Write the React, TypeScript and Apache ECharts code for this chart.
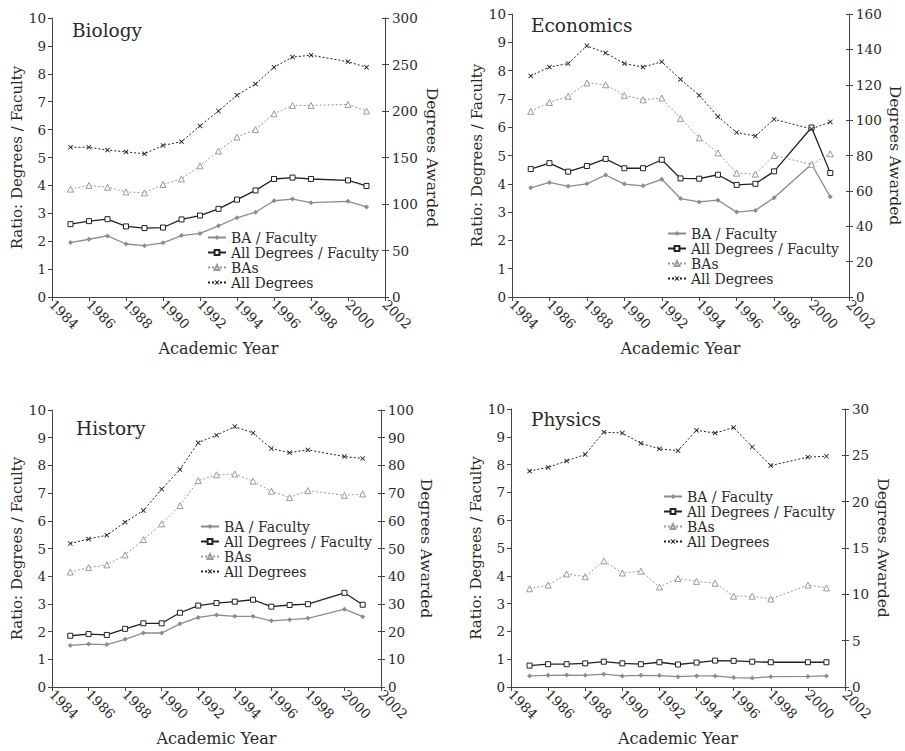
import React, { useEffect, useRef } from "react";
import * as echarts from "echarts";

const YEARS = [1985, 1986, 1987, 1988, 1989, 1990, 1991, 1992, 1993, 1994, 1995, 1996, 1997, 1998, 2000, 2001];
const SERIES_NAMES = ["BA / Faculty", "All Degrees / Faculty", "BAs", "All Degrees"];
const PANEL_TITLES = ["Biology", "Economics", "History", "Physics"];
const RIGHT_MAX = [300, 160, 100, 30];
const RIGHT_INTERVAL = [50, 20, 10, 5];

const BIO_BA_FAC = [1.95, 2.07, 2.19, 1.9, 1.84, 1.94, 2.2, 2.28, 2.55, 2.84, 3.04, 3.45, 3.51, 3.38, 3.43, 3.23];
const BIO_ALL_FAC = [2.61, 2.72, 2.79, 2.53, 2.47, 2.49, 2.78, 2.92, 3.16, 3.49, 3.82, 4.23, 4.28, 4.23, 4.18, 3.98];
const BIO_BAS = [116, 120, 118, 113, 112, 121, 127, 141, 157, 172, 180, 197, 206, 206, 207, 200];
const BIO_ALL = [161, 161, 158, 156, 154, 163, 167, 184, 200, 217, 229, 247, 258, 260, 253, 247];

const ECON_BA_FAC = [3.86, 4.05, 3.91, 4.0, 4.31, 3.99, 3.93, 4.16, 3.48, 3.36, 3.42, 3.0, 3.06, 3.51, 4.69, 3.54];
const ECON_ALL_FAC = [4.52, 4.73, 4.43, 4.63, 4.88, 4.55, 4.55, 4.85, 4.19, 4.18, 4.32, 3.96, 4.0, 4.44, 5.99, 4.38];
const ECON_BAS = [105, 110, 113.5, 121, 120, 114, 111.5, 112.5, 101, 90, 81.5, 70, 69.5, 80, 75, 81];
const ECON_ALL = [125, 130, 132, 142, 138, 132, 130, 133, 123, 114, 102, 93, 91, 100.5, 95, 99];

const HIST_BA_FAC = [1.5, 1.55, 1.53, 1.72, 1.95, 1.95, 2.28, 2.51, 2.6, 2.55, 2.55, 2.39, 2.43, 2.48, 2.81, 2.54];
const HIST_ALL_FAC = [1.85, 1.91, 1.88, 2.1, 2.3, 2.3, 2.68, 2.94, 3.03, 3.08, 3.15, 2.9, 2.96, 2.99, 3.4, 2.97];
const HIST_BAS = [41.5, 43.1, 44.1, 47.7, 53.2, 58.9, 65.5, 74.5, 76.6, 76.9, 74.3, 70.7, 68.4, 70.9, 69.2, 69.7];
const HIST_ALL = [51.8, 53.4, 54.8, 59.5, 63.7, 71.4, 78.5, 88.2, 90.9, 94, 91.7, 86.1, 84.6, 85.6, 83.2, 82.5];

const PHYS_BA_FAC = [0.4, 0.42, 0.43, 0.42, 0.46, 0.4, 0.42, 0.41, 0.37, 0.4, 0.4, 0.34, 0.32, 0.37, 0.38, 0.4];
const PHYS_ALL_FAC = [0.77, 0.82, 0.82, 0.85, 0.91, 0.85, 0.82, 0.89, 0.81, 0.88, 0.95, 0.94, 0.91, 0.89, 0.89, 0.89];
const PHYS_BAS = [10.6, 11.0, 12.2, 11.9, 13.6, 12.3, 12.5, 10.8, 11.7, 11.4, 11.2, 9.8, 9.8, 9.5, 11.0, 10.7];
const PHYS_ALL = [23.3, 23.7, 24.4, 25.1, 27.5, 27.4, 26.3, 25.7, 25.5, 27.7, 27.4, 28.0, 25.9, 23.9, 24.8, 24.9];

const PANEL_DATA = [
  [BIO_BA_FAC, BIO_ALL_FAC, BIO_BAS, BIO_ALL],
  [ECON_BA_FAC, ECON_ALL_FAC, ECON_BAS, ECON_ALL],
  [HIST_BA_FAC, HIST_ALL_FAC, HIST_BAS, HIST_ALL],
  [PHYS_BA_FAC, PHYS_ALL_FAC, PHYS_BAS, PHYS_ALL],
];

// layout
const GRIDS = [
  { left: 52, top: 18, width: 333, height: 279 },
  { left: 512, top: 14, width: 337, height: 283 },
  { left: 52, top: 410, width: 329, height: 277 },
  { left: 511, top: 409, width: 334, height: 278 },
];
const LEGEND_POS = [
  { left: 207, top: 230 },
  { left: 667, top: 226 },
  { left: 200, top: 519 },
  { left: 663, top: 489 },
];
const TITLE_POS = [
  { left: 67, top: 16 },
  { left: 526, top: 11 },
  { left: 71, top: 414 },
  { left: 526, top: 405 },
];
const X_NAME_GAP = [43, 43, 43, 43];
const Y_LEFT_NAME_GAP = [27, 27, 27, 26];
const Y_RIGHT_NAME_GAP = [39, 38, 33, 30];

const FONT = "DejaVu Serif";
const TXT = "#2a2a2a";
const AX = "#444";
const GRAY = "#8c8c8c";
const LGRAY = "#9a9a9a";
const BLACK = "#222";
const XMARK = "path://M0,1.2L1.2,0L5,3.8L8.8,0L10,1.2L6.2,5L10,8.8L8.8,10L5,6.2L1.2,10L0,8.8L3.8,5Z";

function buildOption() {
  const grid: any[] = [];
  const xAxis: any[] = [];
  const yAxis: any[] = [];
  const series: any[] = [];
  const legend: any[] = [];
  const title: any[] = [];

  for (let i = 0; i < 4; i++) {
    grid.push({ ...GRIDS[i], containLabel: false, outerBoundsMode: "none" });
    title.push({
      text: PANEL_TITLES[i],
      ...TITLE_POS[i],
      textStyle: { fontFamily: FONT, fontSize: 18.5, fontWeight: "normal", color: TXT },
    });
    xAxis.push({
      type: "value",
      gridIndex: i,
      min: 1984,
      max: 2002,
      interval: 2,
      name: "Academic Year",
      nameLocation: "middle",
      nameGap: X_NAME_GAP[i],
      nameTextStyle: { fontFamily: FONT, fontSize: 16, color: TXT },
      axisLine: { show: true, lineStyle: { color: AX, width: 1 } },
      axisTick: { show: true, length: 4, lineStyle: { color: AX } },
      axisLabel: {
        rotate: -45,
        margin: 5,
        fontFamily: FONT,
        fontSize: 13.5,
        color: TXT,
        showMinLabel: true,
        showMaxLabel: true,
        formatter: (v: number) => String(v),
      },
      splitLine: { show: false },
    });
    yAxis.push({
      type: "value",
      gridIndex: i,
      position: "left",
      min: 0,
      max: 10,
      interval: 1,
      name: "Ratio: Degrees / Faculty",
      nameLocation: "middle",
      nameGap: Y_LEFT_NAME_GAP[i],
      nameTextStyle: { fontFamily: FONT, fontSize: 15, color: TXT },
      axisLine: { show: true, lineStyle: { color: AX, width: 1 } },
      axisTick: { show: true, length: 4, lineStyle: { color: AX } },
      axisLabel: { margin: 6, fontFamily: FONT, fontSize: 13.5, color: TXT },
      splitLine: { show: false },
    });
    yAxis.push({
      type: "value",
      gridIndex: i,
      position: "right",
      min: 0,
      max: RIGHT_MAX[i],
      interval: RIGHT_INTERVAL[i],
      name: "Degrees Awarded",
      nameLocation: "middle",
      nameRotate: -90,
      nameGap: Y_RIGHT_NAME_GAP[i],
      nameTextStyle: { fontFamily: FONT, fontSize: 15.5, color: TXT },
      axisLine: { show: true, lineStyle: { color: AX, width: 1 } },
      axisTick: { show: true, length: 4, lineStyle: { color: AX } },
      axisLabel: { margin: 7, fontFamily: FONT, fontSize: 13.5, color: TXT },
      splitLine: { show: false },
    });
    yAxis.push({
      type: "value",
      gridIndex: i,
      position: "right",
      min: 0,
      max: RIGHT_MAX[i],
      interval: RIGHT_INTERVAL[i],
      axisLine: { show: false },
      axisTick: { show: true, inside: true, length: 3, lineStyle: { color: AX } },
      axisLabel: { show: false },
      splitLine: { show: false },
    });

    const d = PANEL_DATA[i];
    const pairs = (arr: number[]) => YEARS.map((y, k) => [y, arr[k]]);
    series.push({
      name: SERIES_NAMES[0],
      type: "line",
      xAxisIndex: i,
      yAxisIndex: 3 * i,
      data: pairs(d[0]),
      symbol: "diamond",
      symbolSize: 5,
      lineStyle: { color: GRAY, width: 1.3, type: "solid" },
      itemStyle: { color: GRAY },
    });
    series.push({
      name: SERIES_NAMES[1],
      type: "line",
      xAxisIndex: i,
      yAxisIndex: 3 * i,
      data: pairs(d[1]),
      symbol: "rect",
      symbolSize: 5,
      lineStyle: { color: BLACK, width: 1.3, type: "solid" },
      itemStyle: { color: "#fff", borderColor: BLACK, borderWidth: 1 },
    });
    series.push({
      name: SERIES_NAMES[2],
      type: "line",
      xAxisIndex: i,
      yAxisIndex: 3 * i + 1,
      data: pairs(d[2]),
      symbol: "triangle",
      symbolSize: 6,
      lineStyle: { color: LGRAY, width: 1, type: [2, 2] },
      itemStyle: { color: "#fff", borderColor: LGRAY, borderWidth: 1 },
    });
    series.push({
      name: SERIES_NAMES[3],
      type: "line",
      xAxisIndex: i,
      yAxisIndex: 3 * i + 1,
      data: pairs(d[3]),
      symbol: XMARK,
      symbolSize: 5,
      lineStyle: { color: BLACK, width: 1, type: [2, 2] },
      itemStyle: { color: BLACK },
    });

    legend.push({
      data: SERIES_NAMES,
      orient: "vertical",
      ...LEGEND_POS[i],
      itemWidth: 18,
      itemHeight: 6,
      itemGap: 0,
      padding: 0,
      selectedMode: false,
      textStyle: { fontFamily: FONT, fontSize: 14, color: TXT, lineHeight: 15 },
    });
  }

  return {
    animation: false,
    backgroundColor: "#ffffff",
    textStyle: { fontFamily: FONT },
    title,
    grid,
    xAxis,
    yAxis,
    legend,
    series,
  };
}

export default function App() {
  const ref = useRef<HTMLDivElement>(null);
  useEffect(() => {
    if (!ref.current) return;
    const chart = echarts.init(ref.current, undefined, { renderer: "svg" });
    chart.setOption(buildOption() as any);
    return () => chart.dispose();
  }, []);
  return (
    <div
      ref={ref}
      style={{ position: "fixed", left: 0, top: 0, width: 905, height: 751, background: "#fff" }}
    />
  );
}
